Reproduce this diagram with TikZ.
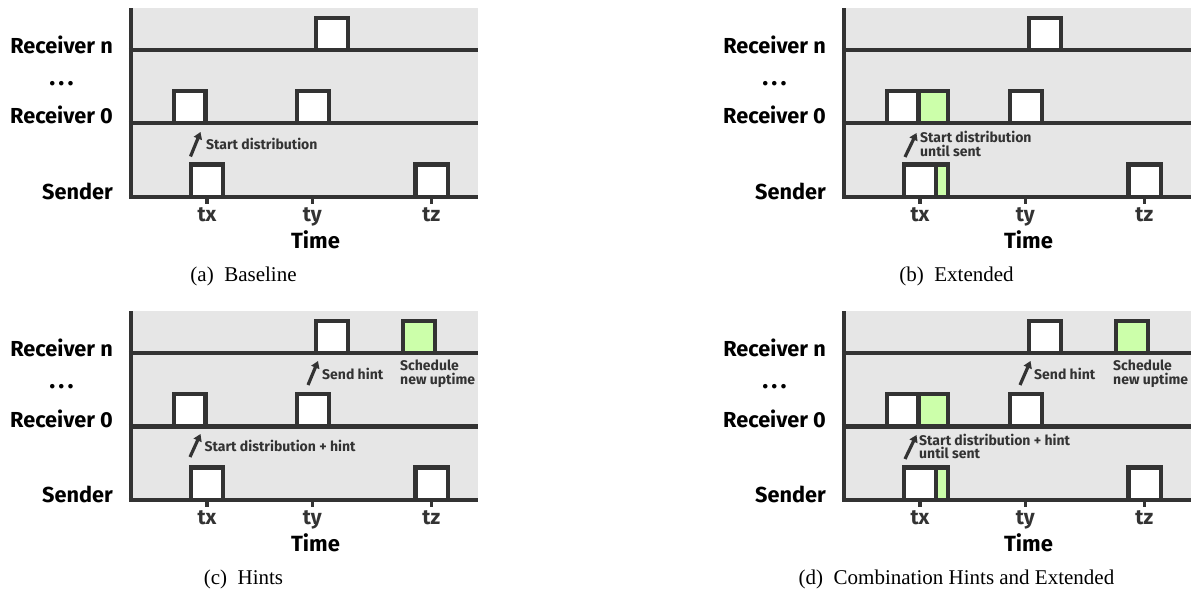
\documentclass[tikz,border=0pt]{standalone}
\usepackage{fontspec}
\setmainfont{Liberation Serif}
\newfontfamily\lblfont{Fira Sans}
\usetikzlibrary{arrows.meta}
\definecolor{dk}{HTML}{333333}
\definecolor{bgg}{HTML}{E6E6E6}
\definecolor{grn}{HTML}{CCFFAA}
\tikzset{
  lane/.style={draw=dk, line width=4.4pt},
  slot/.style={draw=dk, line width=4.2pt, fill=white},
  gslot/.style={draw=dk, line width=4.2pt, fill=grn},
  tickmark/.style={draw=dk, line width=3.5pt},
  rowlbl/.style={inner sep=0pt, text=black, font=\lblfont\bfseries\fontsize{21.7}{24}\selectfont},
  dotlbl/.style={inner sep=0pt, text=black, font=\lblfont\bfseries\fontsize{25}{24}\selectfont},
  ticklbl/.style={inner sep=0pt, text=dk, font=\lblfont\bfseries\fontsize{21}{24}\selectfont, anchor=base},
  axislbl/.style={inner sep=0pt, text=black, font=\lblfont\bfseries\fontsize{22}{24}\selectfont, anchor=base},
  note/.style={inner sep=0pt, text=dk, font=\lblfont\bfseries\fontsize{14}{14}\selectfont, anchor=base west},
  ptr/.style={draw=dk, line width=3.2pt, -{Triangle[length=7pt,width=8.5pt]}},
  capt/.style={inner sep=0pt, text=black, font=\fontsize{21}{24}\selectfont, anchor=base}
}
\newcommand\tlpanel[2]{%
  \fill[bgg] (131,8) rectangle (478,198.9);
  \draw[lane] (128.8,50) -- (477.7,50);
  \draw[lane] (128.8,123.3) -- (477.7,123.3);
  \draw[lane] (128.8,196.7) -- (477.7,196.7);
  \draw[lane] (131,8.3) -- (131,198.9);
  \draw[tickmark] (207,198) -- (207,204);
  \draw[tickmark] (312.3,198) -- (312.3,204);
  \draw[tickmark] (431.5,198) -- (431.5,204);
  \draw[slot] (316.3,17.8) rectangle (347.8,50);
  \draw[slot] (173.7,91.3) rectangle (205.5,123.3);
  \draw[slot] (297,91.3) rectangle (328.7,123.3);
  \draw[slot] (191,164.5) rectangle (223,196.7);
  \draw[slot] (415.5,164.5) rectangle (448,196.7);
  \node[rowlbl, anchor=base east] (#1rn) at (113,53.3) {Receiver n};
  \node[dotlbl, anchor=base] (#1dots) at (61.5,85.5) {.\hspace{3.2pt}.\hspace{3.2pt}.};
  \node[rowlbl, anchor=base east] (#1r0) at (113,124) {Receiver 0};
  \node[rowlbl, anchor=base east] (#1snd) at (113,199.3) {Sender};
  \node[ticklbl] (#1tx) at (207,221.7) {tx};
  \node[ticklbl] (#1ty) at (312.3,221.7) {ty};
  \node[ticklbl] (#1tz) at (431.3,221.7) {tz};
  \node[axislbl] (#1time) at (315.5,248.3) {Time};
  \node[capt] (#1cap) at (243.5,281) {#2};
}
\begin{document}
\begin{tikzpicture}[x=1pt,y=-1pt]
\useasboundingbox (0,0) rectangle (1194,591);
% (a) Baseline
\begin{scope}
  \tlpanel{a}{(a)\enspace Baseline}
  \coordinate (aA0) at (190.5,156.5);
  \coordinate (aA1) at (200.5,132);
  \draw[ptr] (aA0) -- (aA1);
  \node[note] (aN1) at (206,149.5) {Start distribution};
\end{scope}
% (b) Extended
\begin{scope}[shift={(713,0)}]
  \tlpanel{b}{(b)\enspace Extended}
  \draw[gslot] (206,91.3) rectangle (235,123.3);
  \draw[gslot] (223,164.5) rectangle (235,196.7);
  \coordinate (bA0) at (192,157);
  \coordinate (bA1) at (203.5,133);
  \draw[ptr] (bA0) -- (bA1);
  \node[note] (bN1) at (207,142.7) {Start distribution};
  \node[note] (bN2) at (207,156.2) {until sent};
\end{scope}
% (c) Hints
\begin{scope}[shift={(0,303)}]
  \tlpanel{c}{(c)\enspace Hints}
  \draw[gslot] (403,17.8) rectangle (435.3,50);
  \coordinate (cA0) at (190,154);
  \coordinate (cA1) at (200.5,131);
  \draw[ptr] (cA0) -- (cA1);
  \node[note] (cN1) at (204.5,148.7) {Start distribution + hint};
  \coordinate (cB0) at (308,82);
  \coordinate (cB1) at (318,58);
  \draw[ptr] (cB0) -- (cB1);
  \node[note] (cN2) at (322,76) {Send hint};
  \node[note] (cN3) at (400,67.5) {Schedule};
  \node[note] (cN4) at (400,81) {new uptime};
\end{scope}
% (d) Combination Hints and Extended
\begin{scope}[shift={(713,303)}]
  \tlpanel{d}{(d)\enspace Combination Hints and Extended}
  \draw[gslot] (206,91.3) rectangle (235,123.3);
  \draw[gslot] (223,164.5) rectangle (235,196.7);
  \draw[gslot] (403,17.8) rectangle (435.3,50);
  \coordinate (dA0) at (192,156);
  \coordinate (dA1) at (203.5,132);
  \draw[ptr] (dA0) -- (dA1);
  \node[note] (dN1) at (206,142.7) {Start distribution + hint};
  \node[note] (dN2) at (206,155.5) {until sent};
  \coordinate (dB0) at (307,82);
  \coordinate (dB1) at (317.5,58);
  \draw[ptr] (dB0) -- (dB1);
  \node[note] (dN3) at (321,76) {Send hint};
  \node[note] (dN4) at (400,67.5) {Schedule};
  \node[note] (dN5) at (400,81) {new uptime};
\end{scope}
\end{tikzpicture}
\end{document}
